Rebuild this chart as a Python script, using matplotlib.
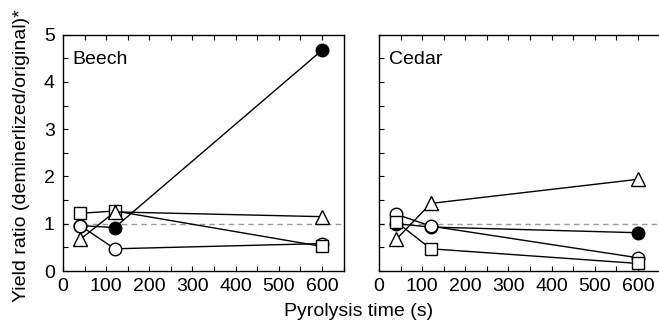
import numpy as np
import matplotlib
matplotlib.use('Agg')
from matplotlib import pyplot as plt
from matplotlib.ticker import MultipleLocator

plt.rcParams['font.family'] = ['Liberation Sans', 'DejaVu Sans']
plt.rcParams['font.size'] = 14

# pyrolysis times (s)
t = [40, 120, 600]

# yield ratios, demineralized / original
beech_square = [1.22, 1.27, 0.52]
beech_triangle = [0.67, 1.25, 1.15]
beech_circle = [0.96, 0.47, 0.58]
beech_filled = [0.96, 0.92, 4.67]

cedar_square = [1.04, 0.47, 0.16]
cedar_triangle = [0.67, 1.43, 1.94]
cedar_circle = [1.20, 0.95, 0.28]
cedar_filled = [1.00, 0.93, 0.81]

panels = [('Beech', beech_square, beech_triangle, beech_circle, beech_filled),
          ('Cedar', cedar_square, cedar_triangle, cedar_circle, cedar_filled)]


def draw_panel(ax, name, sq, tri, circ, fill, label_y=True):
    ax.axhline(1.0, color='#9a9a9a', lw=1.0, ls=(0, (4, 3)), zorder=1)
    kw = dict(color='black', lw=1.0, mec='black', mew=1.0)
    ax.plot(t, fill, marker='o', ms=9, mfc='black', zorder=2, **kw)
    ax.plot(t, circ, marker='o', ms=9, mfc='white', zorder=3, **kw)
    ax.plot(t, sq, marker='s', ms=8, mfc='white', zorder=4, **kw)
    ax.plot(t, tri, marker='^', ms=10, mfc='white', zorder=4, **kw)

    ax.set_xlim(0, 650)
    ax.set_ylim(0, 5)
    ax.xaxis.set_major_locator(MultipleLocator(100))
    ax.xaxis.set_minor_locator(MultipleLocator(50))
    ax.yaxis.set_major_locator(MultipleLocator(1))
    ax.yaxis.set_minor_locator(MultipleLocator(0.5))
    ax.tick_params(which='both', direction='in', top=True, right=False,
                   width=0.8, length=3.5, labelsize=14)
    ax.tick_params(axis='x', pad=5)
    ax.tick_params(axis='y', pad=6)
    if not label_y:
        ax.tick_params(axis='y', labelleft=False)
    for s in ax.spines.values():
        s.set_linewidth(1.0)
    ax.text(0.035, 0.895, name, transform=ax.transAxes, fontsize=14,
            ha='left', va='center')


fig = plt.figure(figsize=(6.59, 3.21), dpi=100)
ax1 = fig.add_axes([63 / 659, 50 / 321, 280.5 / 659, 236.3 / 321])
ax2 = fig.add_axes([379 / 659, 50 / 321, 280.5 / 659, 236.3 / 321])

draw_panel(ax1, *panels[0])
draw_panel(ax2, *panels[1], label_y=False)

fig.text(359 / 659, 1 - 311 / 321, 'Pyrolysis time (s)', ha='center',
         va='center', fontsize=14)
fig.text(22 / 659, 1 - 156 / 321,
         'Yield ratio (deminerlized/original)*', rotation=90,
         ha='center', va='center', fontsize=14)

fig.savefig('out.png', dpi=100)
